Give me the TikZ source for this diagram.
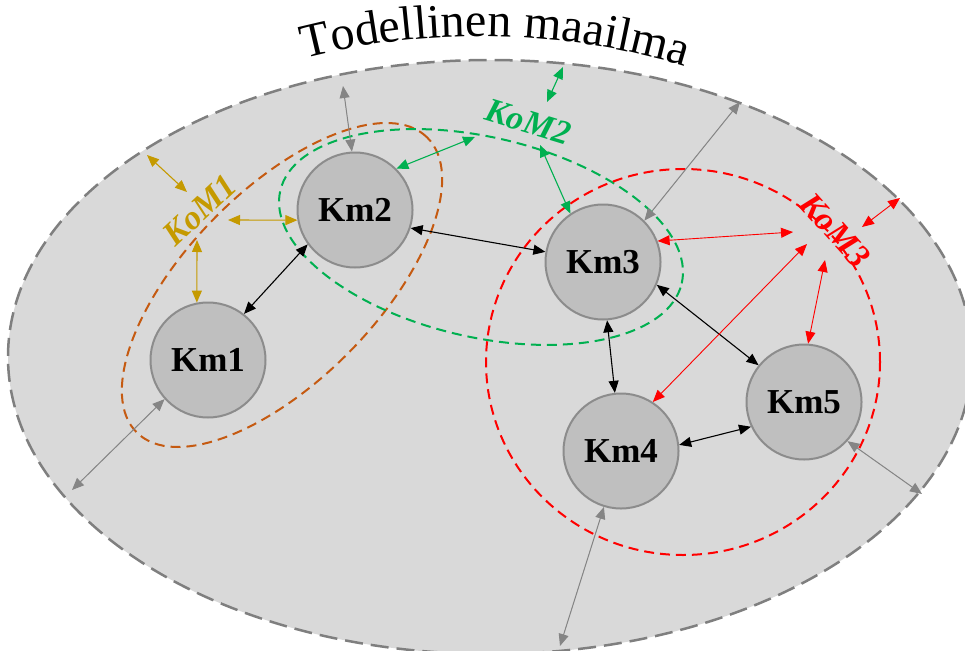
\documentclass[tikz,border=0pt]{standalone}
\usepackage{fontspec}
\setmainfont{Liberation Serif}
\usetikzlibrary{arrows.meta,decorations.text}

\definecolor{world}{HTML}{D9D9D9}
\definecolor{worldedge}{HTML}{7F7F7F}
\definecolor{kmfill}{HTML}{BFBFBF}
\definecolor{kmedge}{HTML}{8C8C8C}
\definecolor{komgold}{HTML}{C59A00}
\definecolor{komorange}{HTML}{C55A11}
\definecolor{komgreen}{HTML}{00B050}
\definecolor{komred}{HTML}{FF0000}
\definecolor{linkgray}{HTML}{858585}

\begin{document}
\begin{tikzpicture}[x=1pt,y=-1pt,
  kmnode/.style={circle, draw=kmedge, line width=2pt, fill=kmfill,
    minimum size=115pt, inner sep=0pt,
    font=\fontsize{35}{35}\selectfont\bfseries},
  komlabel/.style={inner sep=0pt, font=\fontsize{34}{34}\selectfont\bfseries\itshape},
  link/.style={{Triangle[length=12pt,width=10pt]}-{Triangle[length=12pt,width=10pt]}, line width=1.1pt},
  worldlink/.style={link, draw=linkgray, fill=linkgray, line width=1pt},
  kdash/.style={line width=2pt, dash pattern=on 10pt off 6pt},
]
\useasboundingbox (0,0) rectangle (965,650);

% the real world
\draw[fill=world, draw=worldedge, line width=2.5pt, dash pattern=on 18pt off 8pt]
  (490,357) ellipse[x radius=482pt, y radius=297pt];

% title along an arc
\path[decorate, decoration={text along path, text align=center,
  text={|\fontsize{48}{48}\selectfont|Todellinen maailma}}]
  (298,60) .. controls (420,27) and (562,27) .. (692,69);

% communities
\draw[komorange, kdash, rotate around={45.5:(282,285)}]
  (282,285) ellipse[x radius=207pt, y radius=95pt];
\draw[komgreen, kdash, rotate around={-13:(481,237)}]
  (481,237) ellipse[x radius=206pt, y radius=100pt];
\draw[komred, kdash] (683,362) ellipse[x radius=197pt, y radius=193pt];

% members
\node[kmnode] (km1) at (208,360) {Km1};
\node[kmnode] (km2) at (355,210) {Km2};
\node[kmnode] (km3) at (603,262) {Km3};
\node[kmnode] (km4) at (621,451) {Km4};
\node[kmnode] (km5) at (804,402) {Km5};

% community labels
\node[komlabel, text=komgold, rotate=43] (kom1) at (200,210) {KoM1};
\node[komlabel, text=komgreen, rotate=-17] (kom2) at (528,122) {KoM2};
\node[komlabel, text=komred, rotate=-48] (kom3) at (835,230) {KoM3};

% free ends
\coordinate (wA) at (343,86);
\coordinate (wB) at (740,102);
\coordinate (wC) at (72,490);
\coordinate (wD) at (560,646);
\coordinate (wE) at (922,494);
\coordinate (gA) at (147,155);
\coordinate (gB) at (187,192);
\coordinate (gC) at (228,220);
\coordinate (gD) at (197,240);
\coordinate (nA) at (547,102);
\coordinate (nB) at (563,67);
\coordinate (nC) at (475,137);
\coordinate (nD) at (540,145);
\coordinate (rA) at (793,232);
\coordinate (rB) at (807,244);
\coordinate (rC) at (825,260);
\coordinate (rD) at (862,227);
\coordinate (rE) at (900,198);

% links between members
\draw[link, black] (km1.52) -- (km2.216);
\draw[link, black] (km2.-18) -- (km3.170);
\draw[link, black] (km3.-23) -- (km5.141);
\draw[link, black] (km3.-86) -- (km4.96);
\draw[link, black] (km4.6) -- (km5.205);

% links to the real world
\draw[worldlink] (wA) -- (km2.93);
\draw[worldlink] (wB) -- (km3.45);
\draw[worldlink] (wC) -- (km1.222);
\draw[worldlink] (km4.-107) -- (wD);
\draw[worldlink] (km5.-42) -- (wE);

% KoM1
\draw[link, komgold] (gA) -- (gB);
\draw[link, komgold] (gC) -- (km2.190);
\draw[link, komgold] (gD) -- (km1.101);

% KoM2
\draw[link, komgreen] (nA) -- (nB);
\draw[link, komgreen] (nC) -- (km2.45);
\draw[link, komgreen] (nD) -- (km3.124);

% KoM3
\draw[link, komred, line width=0.9pt] (rA) -- (km3.21);
\draw[link, komred, line width=0.9pt] (rB) -- (km4.57);
\draw[link, komred, line width=0.9pt] (rC) -- (km5.86);
\draw[link, komred, line width=0.9pt] (rD) -- (rE);
\end{tikzpicture}
\end{document}
